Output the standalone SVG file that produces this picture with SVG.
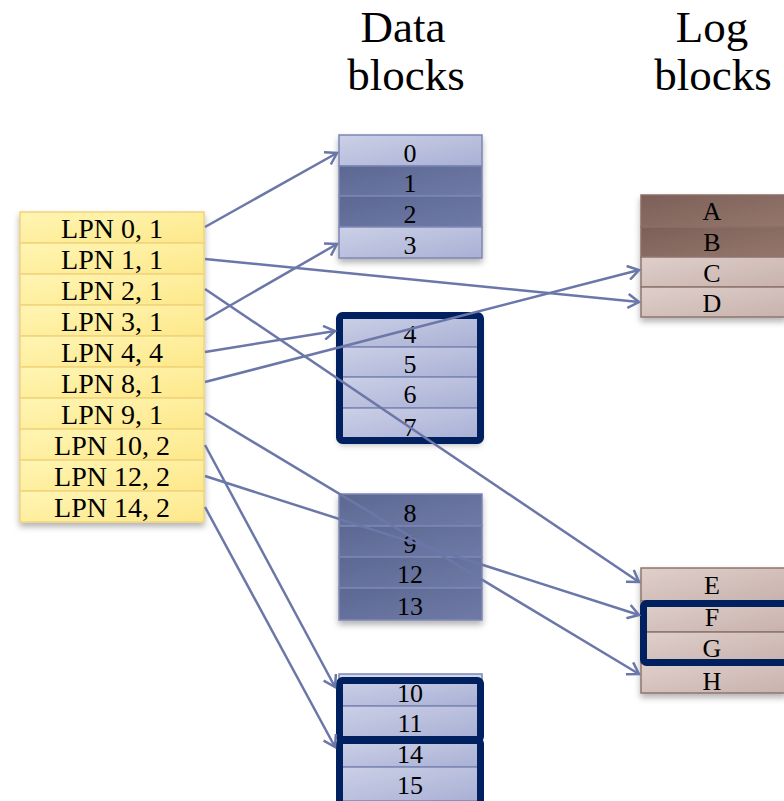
<svg xmlns="http://www.w3.org/2000/svg" width="784" height="801" viewBox="0 0 784 801">
  <defs>
    <linearGradient id="gLight" x1="0" y1="0" x2="1" y2="1">
      <stop offset="0" stop-color="#ccd0e7"/>
      <stop offset="1" stop-color="#a8b0d4"/>
    </linearGradient>
    <linearGradient id="gDark" x1="0" y1="0" x2="1" y2="1">
      <stop offset="0" stop-color="#5c6892"/>
      <stop offset="1" stop-color="#6f7aa6"/>
    </linearGradient>
    <linearGradient id="gLpn" x1="0" y1="0" x2="1" y2="1">
      <stop offset="0" stop-color="#fff5b4"/>
      <stop offset="1" stop-color="#fde88a"/>
    </linearGradient>
    <linearGradient id="gLogDark" x1="0" y1="0" x2="1" y2="1">
      <stop offset="0" stop-color="#7c6058"/>
      <stop offset="1" stop-color="#94766c"/>
    </linearGradient>
    <linearGradient id="gLogLight" x1="0" y1="0" x2="1" y2="1">
      <stop offset="0" stop-color="#dfcfcb"/>
      <stop offset="1" stop-color="#c8b2ad"/>
    </linearGradient>
    <filter id="shadow" x="-10%" y="-10%" width="120%" height="130%">
      <feDropShadow dx="0" dy="4" stdDeviation="3" flood-color="#000" flood-opacity="0.3"/>
    </filter>
    <marker id="arrow" markerWidth="16" markerHeight="16" refX="13" refY="8" orient="auto" markerUnits="userSpaceOnUse">
      <path d="M2,1 L13,8 L2,15" fill="none" stroke="#6b77a8" stroke-width="2.5"/>
    </marker>
  </defs>
  <style>
    text { font-family: "Liberation Serif", "Times New Roman", serif; fill: #000; text-anchor: middle; }
    .hdr { font-size: 45px; }
    .lpn { font-size: 28px; }
    .num { font-size: 26px; }
    .lpnRow { fill: url(#gLpn); stroke: #f1d47a; stroke-width: 1.5; }
    .light { fill: url(#gLight); stroke: #7c87b4; stroke-width: 1.5; }
    .dark { fill: url(#gDark); stroke: #7c87b4; stroke-width: 1.5; }
    .logDark { fill: url(#gLogDark); stroke: #8a6f68; stroke-width: 1.5; }
    .logLight { fill: url(#gLogLight); stroke: #8e756e; stroke-width: 1.5; }
    .thick { fill: none; stroke: #002060; stroke-width: 7; }
    .conn { stroke: #6b77a8; stroke-width: 2.5; fill: none; marker-end: url(#arrow); }
  </style>

  <!-- column headings -->
  <g id="hdr-data">
    <text class="hdr" x="403" y="42">Data</text>
    <text class="hdr" x="406" y="90">blocks</text>
  </g>
  <g id="hdr-log">
    <text class="hdr" x="712" y="42">Log</text>
    <text class="hdr" x="713" y="90">blocks</text>
  </g>

  <!-- logical page table -->
  <g id="lpn-table" filter="url(#shadow)">
    <rect class="lpnRow" x="20" y="212" width="184" height="31"/>
    <rect class="lpnRow" x="20" y="243" width="184" height="31"/>
    <rect class="lpnRow" x="20" y="274" width="184" height="31"/>
    <rect class="lpnRow" x="20" y="305" width="184" height="31"/>
    <rect class="lpnRow" x="20" y="336" width="184" height="31"/>
    <rect class="lpnRow" x="20" y="367" width="184" height="31"/>
    <rect class="lpnRow" x="20" y="398" width="184" height="31"/>
    <rect class="lpnRow" x="20" y="429" width="184" height="31"/>
    <rect class="lpnRow" x="20" y="460" width="184" height="31"/>
    <rect class="lpnRow" x="20" y="491" width="184" height="31"/>
  </g>
  <g id="lpn-labels">
    <text class="lpn" x="112" y="238">LPN 0, 1</text>
    <text class="lpn" x="112" y="269">LPN 1, 1</text>
    <text class="lpn" x="112" y="300">LPN 2, 1</text>
    <text class="lpn" x="112" y="331">LPN 3, 1</text>
    <text class="lpn" x="112" y="362">LPN 4, 4</text>
    <text class="lpn" x="112" y="393">LPN 8, 1</text>
    <text class="lpn" x="112" y="424">LPN 9, 1</text>
    <text class="lpn" x="112" y="455">LPN 10, 2</text>
    <text class="lpn" x="112" y="486">LPN 12, 2</text>
    <text class="lpn" x="112" y="517">LPN 14, 2</text>
  </g>

  <!-- data block 0-3 -->
  <g id="data-block-0">
    <g filter="url(#shadow)">
      <rect class="light" x="339" y="135" width="143" height="31"/>
      <rect class="dark" x="339" y="166" width="143" height="30"/>
      <rect class="dark" x="339" y="196" width="143" height="31"/>
      <rect class="light" x="339" y="227" width="143" height="31"/>
    </g>
    <text class="num" x="410" y="162">0</text>
    <text class="num" x="410" y="192">1</text>
    <text class="num" x="410" y="223">2</text>
    <text class="num" x="410" y="254">3</text>
  </g>

  <!-- data block 4-7 -->
  <g id="data-block-1">
    <g filter="url(#shadow)">
      <rect class="light" x="340" y="316" width="140" height="31"/>
      <rect class="light" x="340" y="347" width="140" height="30"/>
      <rect class="light" x="340" y="377" width="140" height="31"/>
      <rect class="light" x="340" y="408" width="140" height="32"/>
    </g>
    <rect class="thick" x="339.5" y="315.5" width="141" height="125" rx="3"/>
    <text class="num" x="410" y="343">4</text>
    <text class="num" x="410" y="373">5</text>
    <text class="num" x="410" y="403">6</text>
    <text class="num" x="410" y="436">7</text>
  </g>

  <!-- data block 8-13 -->
  <g id="data-block-2">
    <g filter="url(#shadow)">
      <rect class="dark" x="339" y="494" width="143" height="32"/>
      <rect class="dark" x="339" y="526" width="143" height="31"/>
      <rect class="dark" x="339" y="557" width="143" height="31"/>
      <rect class="dark" x="339" y="588" width="143" height="32"/>
    </g>
    <text class="num" x="410" y="522">8</text>
    <text class="num" x="410" y="553">9</text>
    <text class="num" x="410" y="583">12</text>
    <text class="num" x="410" y="615">13</text>
  </g>

  <!-- data block 10/11/14/15 -->
  <g id="data-block-3">
    <rect x="339" y="674" width="143" height="127" fill="#d4d8ec" stroke="#7c87b4" stroke-width="1.5"/>
    <rect class="light" x="340" y="681" width="140" height="25"/>
    <rect class="light" x="340" y="706" width="140" height="31"/>
    <rect class="light" x="340" y="742" width="140" height="25"/>
    <rect class="light" x="340" y="767" width="140" height="34"/>
    <rect class="thick" x="339.5" y="680.5" width="141" height="59" rx="3"/>
    <rect class="thick" x="339.5" y="740.5" width="141" height="64" rx="3"/>
    <text class="num" x="410" y="702">10</text>
    <text class="num" x="410" y="732">11</text>
    <text class="num" x="410" y="763">14</text>
    <text class="num" x="410" y="794">15</text>
  </g>

  <!-- log block A-D -->
  <g id="log-block-0">
    <g filter="url(#shadow)">
      <rect class="logDark" x="641" y="195" width="145" height="32"/>
      <rect class="logDark" x="641" y="227" width="145" height="30"/>
      <rect class="logLight" x="641" y="257" width="145" height="30"/>
      <rect class="logLight" x="641" y="287" width="145" height="30"/>
    </g>
    <text class="num" x="712" y="220">A</text>
    <text class="num" x="712" y="251">B</text>
    <text class="num" x="712" y="282">C</text>
    <text class="num" x="712" y="312">D</text>
  </g>

  <!-- log block E-H -->
  <g id="log-block-1">
    <g filter="url(#shadow)">
      <rect class="logLight" x="641" y="568" width="145" height="33"/>
      <rect class="logLight" x="641" y="601" width="145" height="31"/>
      <rect class="logLight" x="641" y="632" width="145" height="31"/>
      <rect class="logLight" x="641" y="663" width="145" height="30"/>
    </g>
    <rect class="thick" x="643.5" y="603.5" width="145" height="59" rx="3"/>
    <text class="num" x="712" y="594">E</text>
    <text class="num" x="712" y="626">F</text>
    <text class="num" x="712" y="657">G</text>
    <text class="num" x="712" y="690">H</text>
  </g>

  <!-- mappings -->
  <g id="connectors">
    <line class="conn" x1="205" y1="227" x2="337" y2="153"/>
    <line class="conn" x1="205" y1="259" x2="639" y2="302"/>
    <line class="conn" x1="205" y1="289" x2="639" y2="582"/>
    <line class="conn" x1="205" y1="320" x2="337" y2="244"/>
    <line class="conn" x1="205" y1="352" x2="335" y2="331"/>
    <line class="conn" x1="205" y1="382" x2="639" y2="270"/>
    <line class="conn" x1="205" y1="413" x2="639" y2="674"/>
    <line class="conn" x1="205" y1="445" x2="335" y2="687"/>
    <line class="conn" x1="205" y1="476" x2="639" y2="615"/>
    <line class="conn" x1="205" y1="507" x2="335" y2="747"/>
  </g>
</svg>
